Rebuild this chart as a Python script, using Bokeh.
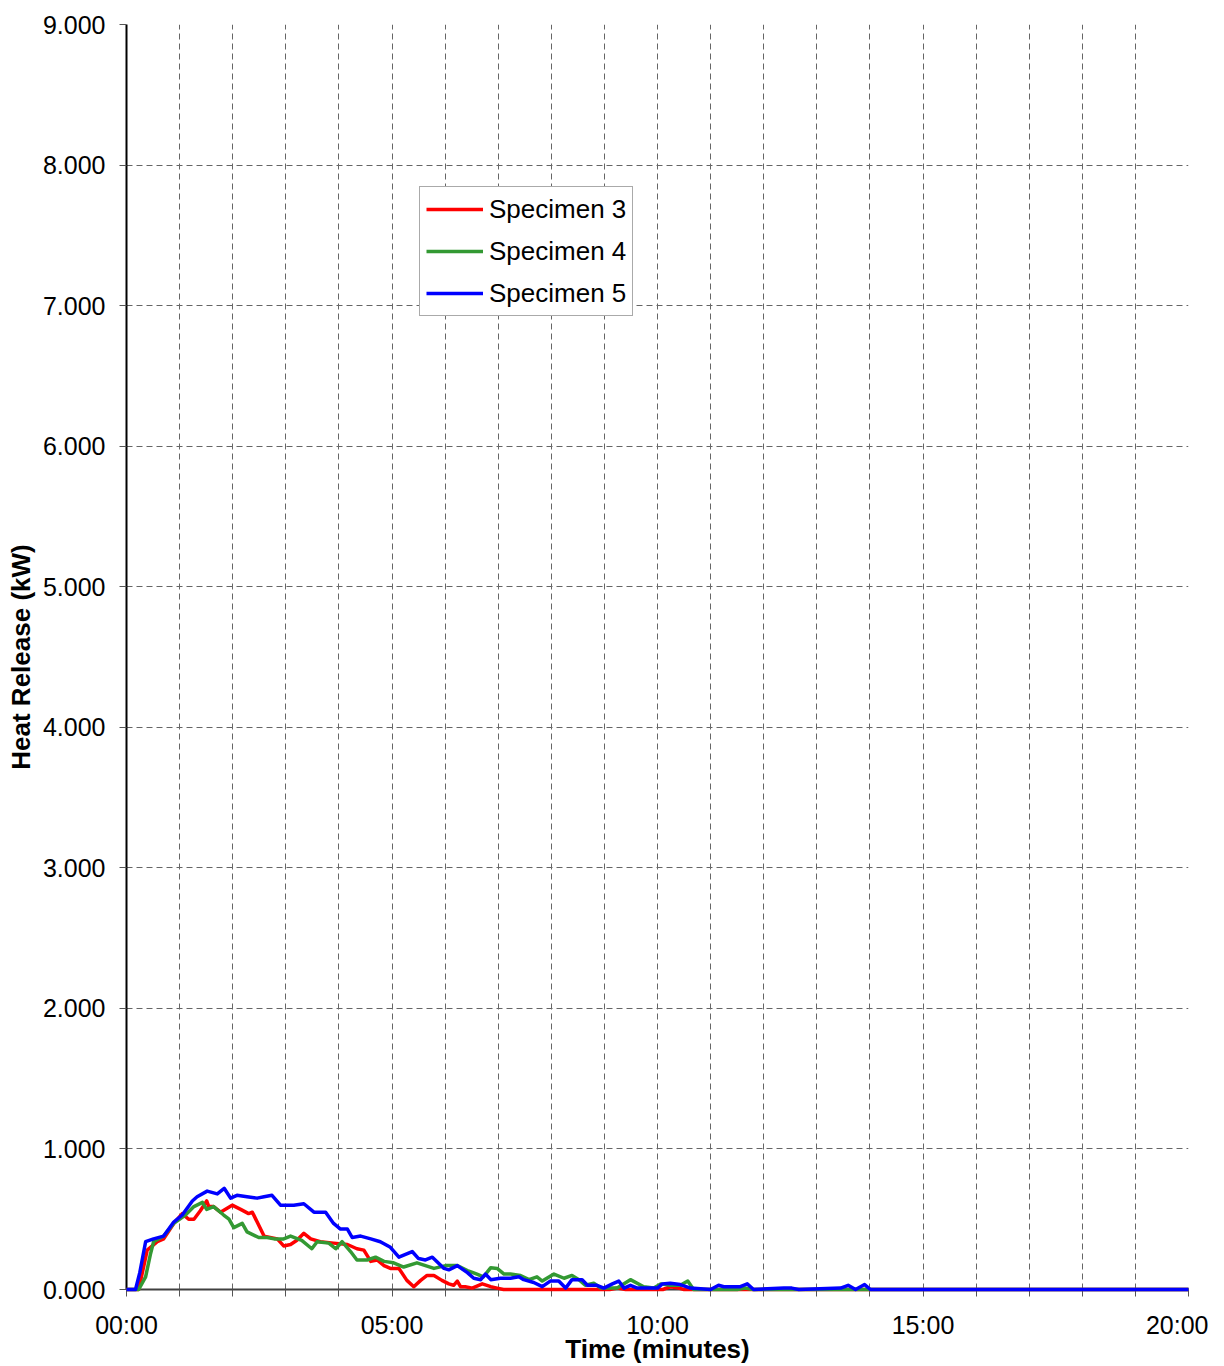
from bokeh.plotting import figure
from bokeh.models import (FixedTicker, NumeralTickFormatter, Range1d, Legend, LegendItem)
from bokeh.embed import file_html
from bokeh.resources import INLINE

# ---- data (time in minutes, heat release in kW) ----
series_names = ["Specimen 3", "Specimen 4", "Specimen 5"]

t_spec3 = [0, 0.23, 0.39, 0.58, 0.70, 0.89, 1.05, 1.17, 1.27, 1.39,
           1.51, 1.55, 1.64, 1.77, 1.99, 2.15, 2.30, 2.37, 2.59, 2.84,
           2.96, 3.09, 3.21, 3.34, 3.47, 3.65, 3.90, 4.16, 4.34, 4.47,
           4.60, 4.72, 4.85, 4.97, 5.13, 5.28, 5.41, 5.54, 5.66, 5.79,
           5.94, 6.07, 6.16, 6.23, 6.29, 6.38, 6.51, 6.70, 6.86, 6.98,
           7.10, 9.10, 9.25, 9.40, 10.10, 10.25, 10.40, 10.50, 20]
hr_spec3 = [0, 0, 0.28, 0.34, 0.36, 0.47, 0.54, 0.50, 0.50, 0.56,
            0.63, 0.59, 0.59, 0.55, 0.60, 0.57, 0.54, 0.55, 0.38, 0.36,
            0.31, 0.32, 0.35, 0.40, 0.36, 0.34, 0.33, 0.32, 0.29, 0.28,
            0.20, 0.21, 0.17, 0.15, 0.15, 0.065, 0.02, 0.065, 0.10, 0.10,
            0.065, 0.04, 0.03, 0.06, 0.02, 0.02, 0.01, 0.04, 0.02, 0.01,
            0, 0, 0.01, 0, 0, 0.02, 0.01, 0, 0]

t_spec4 = [0, 0.23, 0.36, 0.45, 0.51, 0.70, 0.89, 1.11, 1.27, 1.43,
           1.51, 1.64, 1.83, 1.93, 2.02, 2.18, 2.27, 2.49, 2.65, 2.78,
           2.96, 3.09, 3.30, 3.49, 3.59, 3.81, 3.94, 4.06, 4.22, 4.34,
           4.53, 4.69, 4.85, 5.03, 5.22, 5.47, 5.79, 6.01, 6.23, 6.42,
           6.60, 6.72, 6.86, 6.98, 7.11, 7.23, 7.42, 7.58, 7.73, 7.83,
           8.05, 8.24, 8.39, 8.52, 8.64, 8.80, 8.93, 9.24, 9.49, 9.74,
           9.93, 10.06, 10.24, 10.43, 10.57, 10.68, 11.50, 11.65, 11.80, 20]
hr_spec4 = [0, 0, 0.09, 0.25, 0.34, 0.38, 0.47, 0.53, 0.59, 0.62,
            0.57, 0.59, 0.53, 0.50, 0.44, 0.47, 0.41, 0.37, 0.37, 0.36,
            0.36, 0.38, 0.35, 0.29, 0.34, 0.33, 0.29, 0.34, 0.27, 0.21,
            0.21, 0.23, 0.20, 0.19, 0.16, 0.19, 0.15, 0.17, 0.17, 0.135,
            0.11, 0.09, 0.155, 0.15, 0.11, 0.11, 0.10, 0.07, 0.09, 0.06,
            0.11, 0.08, 0.10, 0.07, 0.03, 0.045, 0.01, 0.01, 0.07, 0.02,
            0.01, 0.04, 0.03, 0.03, 0.06, 0, 0, 0.01, 0, 0]

t_spec5 = [0, 0.17, 0.25, 0.36, 0.51, 0.70, 0.89, 1.05, 1.24, 1.33,
           1.52, 1.71, 1.84, 1.96, 2.08, 2.27, 2.46, 2.59, 2.74, 2.90,
           3.15, 3.34, 3.53, 3.75, 3.90, 4.03, 4.16, 4.25, 4.41, 4.60,
           4.78, 4.97, 5.13, 5.38, 5.50, 5.63, 5.76, 5.98, 6.07, 6.23,
           6.42, 6.54, 6.67, 6.76, 6.86, 7.04, 7.23, 7.39, 7.48, 7.67,
           7.83, 7.98, 8.14, 8.27, 8.39, 8.58, 8.68, 8.86, 8.99, 9.15,
           9.27, 9.37, 9.49, 9.62, 10.00, 10.09, 10.24, 10.43, 10.62, 11.00,
           11.15, 11.25, 11.56, 11.69, 11.81, 12.38, 12.53, 12.66, 13.45, 13.59,
           13.73, 13.90, 14.01, 20]
hr_spec5 = [0, 0, 0.12, 0.34, 0.36, 0.38, 0.48, 0.53, 0.63, 0.66,
            0.70, 0.68, 0.72, 0.65, 0.67, 0.66, 0.65, 0.66, 0.67, 0.60,
            0.60, 0.61, 0.55, 0.55, 0.47, 0.43, 0.43, 0.37, 0.38, 0.36,
            0.34, 0.30, 0.23, 0.27, 0.22, 0.21, 0.23, 0.15, 0.14, 0.17,
            0.12, 0.08, 0.07, 0.11, 0.07, 0.08, 0.08, 0.09, 0.07, 0.05,
            0.02, 0.06, 0.06, 0.01, 0.07, 0.07, 0.03, 0.03, 0.01, 0.04,
            0.06, 0.01, 0.03, 0.01, 0.01, 0.04, 0.045, 0.035, 0.01, 0,
            0.03, 0.02, 0.02, 0.04, 0, 0.01, 0.01, 0, 0.01, 0.03,
            0, 0.035, 0, 0]

x_ticks = list(range(0, 21))
x_tick_labels = {0: "00:00", 5: "05:00", 10: "10:00", 15: "15:00", 20: "20:00"}
y_ticks = list(range(0, 10))

colors = ["#FF0000", "#339933", "#0000FF"]

FONT = "Liberation Sans"

p = figure(width=1208, height=1366, output_backend="svg", toolbar_location=None,
           x_range=Range1d(0, 20), y_range=Range1d(0, 9),
           min_border_left=126, min_border_right=20, min_border_top=24,
           min_border_bottom=77)
p.outline_line_color = None
p.background_fill_color = "white"
p.border_fill_color = "white"

renderers = []
for t, v, c in zip([t_spec3, t_spec4, t_spec5], [hr_spec3, hr_spec4, hr_spec5], colors):
    r = p.line(t, v, line_color=c, line_width=3.5, line_join="round", level="overlay")
    renderers.append(r)

# axes
p.xaxis.ticker = FixedTicker(ticks=x_ticks)
p.xaxis.major_label_overrides = {k: x_tick_labels.get(k, "") for k in x_ticks}
p.xaxis.minor_tick_line_color = None
p.xaxis.major_tick_in = 0
p.xaxis.major_tick_out = 7
p.xaxis.major_tick_line_color = "#555555"
p.xaxis.axis_line_color = "#404040"
p.xaxis.axis_line_width = 2
p.xaxis.major_label_standoff = 14
p.xaxis.major_label_text_font = FONT
p.xaxis.major_label_text_font_size = "25px"
p.xaxis.major_label_text_color = "black"
p.xaxis.axis_label = "Time (minutes)"
p.xaxis.axis_label_text_font = FONT
p.xaxis.axis_label_text_font_size = "26px"
p.xaxis.axis_label_text_font_style = "bold"
p.xaxis.axis_label_text_color = "black"
p.xaxis.axis_label_standoff = -8

p.yaxis.ticker = FixedTicker(ticks=y_ticks)
p.yaxis.formatter = NumeralTickFormatter(format="0.000")
p.yaxis.minor_tick_line_color = None
p.yaxis.major_tick_in = 0
p.yaxis.major_tick_out = 7
p.yaxis.major_tick_line_color = "#555555"
p.yaxis.axis_line_color = "black"
p.yaxis.axis_line_width = 2
p.yaxis.major_label_standoff = 14
p.yaxis.major_label_text_font = FONT
p.yaxis.major_label_text_font_size = "25px"
p.yaxis.major_label_text_color = "black"
p.yaxis.axis_label = "Heat Release (kW)"
p.yaxis.axis_label_text_font = FONT
p.yaxis.axis_label_text_font_size = "26px"
p.yaxis.axis_label_text_font_style = "bold"
p.yaxis.axis_label_text_color = "black"
p.yaxis.axis_label_standoff = 4

# grid
p.xgrid.ticker = FixedTicker(ticks=x_ticks)
p.ygrid.ticker = FixedTicker(ticks=y_ticks)
for g in (p.xgrid, p.ygrid):
    g.grid_line_color = "#666666"
    g.grid_line_width = 1
    g.grid_line_dash = "6 4"

legend = Legend(items=[LegendItem(label=n, renderers=[r]) for n, r in zip(series_names, renderers)],
                location=(293, 973), orientation="vertical",
                label_text_font=FONT, label_text_font_size="26px", label_text_color="black",
                glyph_width=57, glyph_height=32, label_height=32, spacing=10,
                padding=6, margin=0, label_standoff=6,
                border_line_color="#555555", border_line_width=1,
                background_fill_color="white", background_fill_alpha=1.0)
p.add_layout(legend, "center")

open("out.html", "w").write(file_html(p, INLINE))
